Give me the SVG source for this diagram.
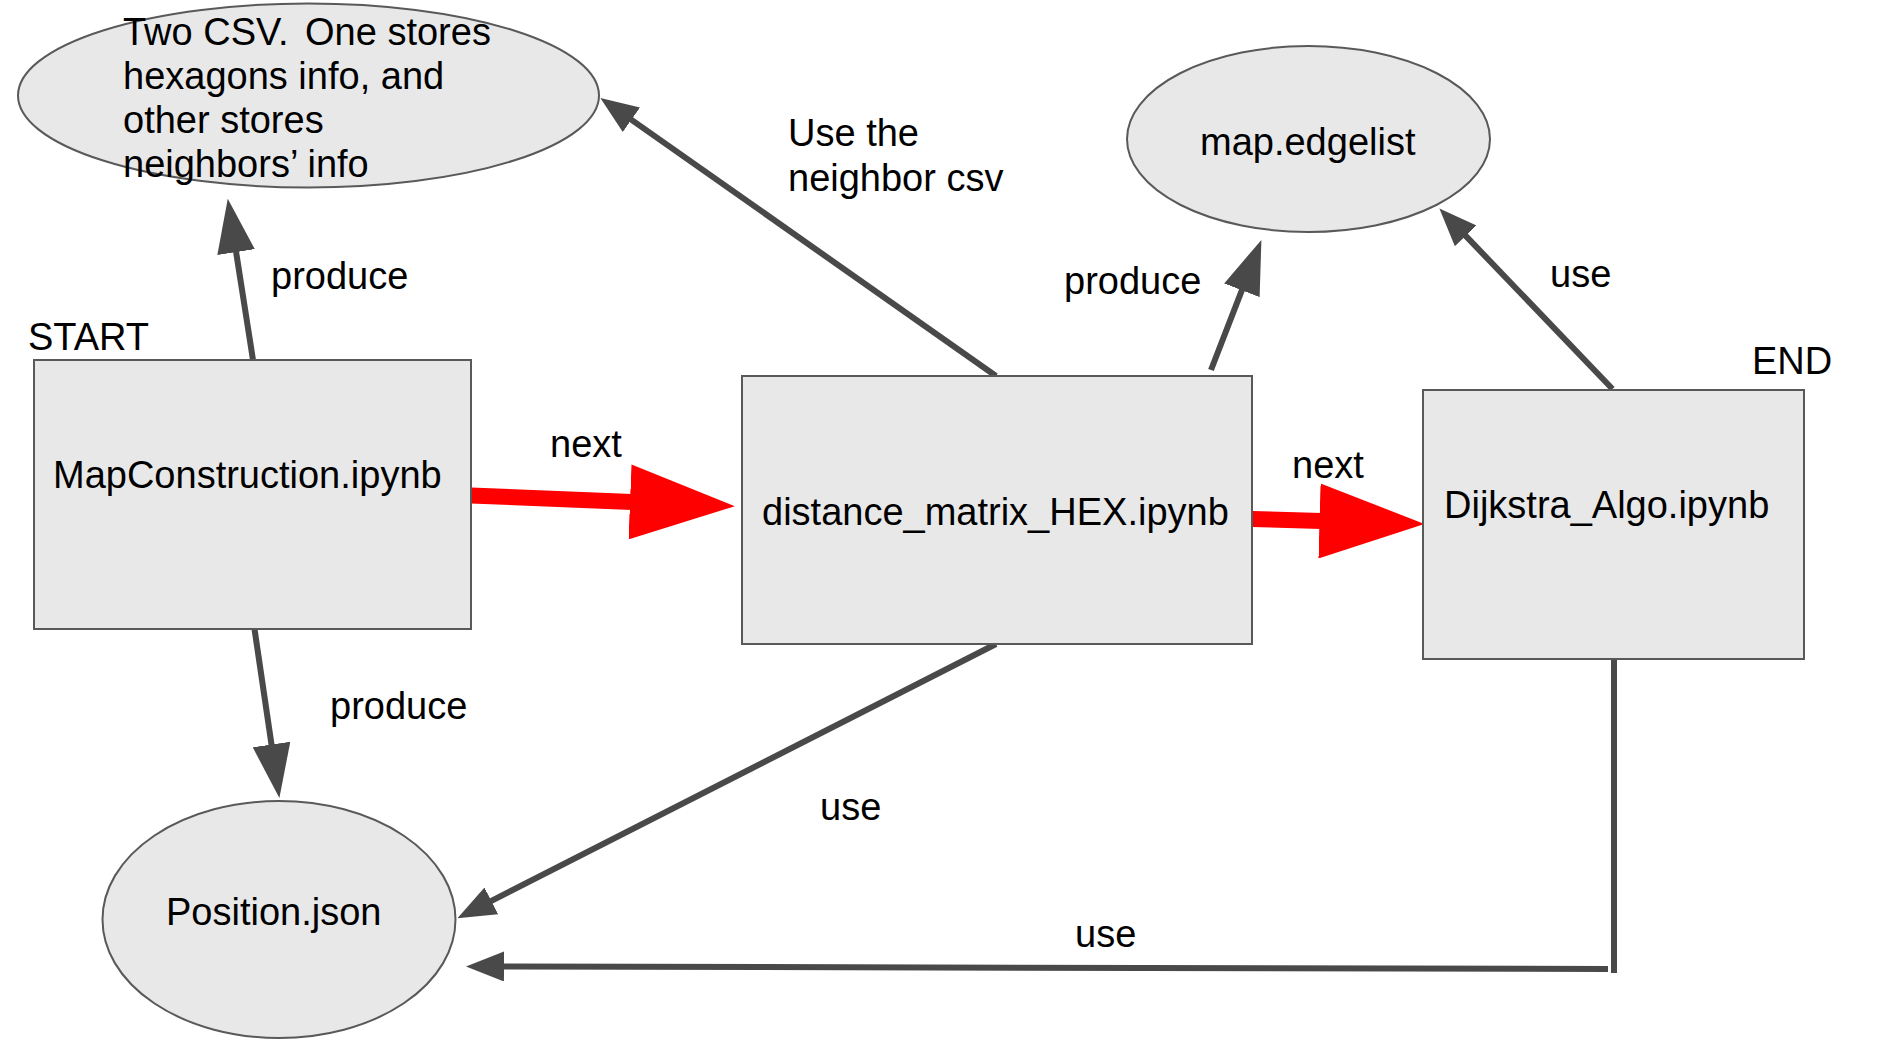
<svg xmlns="http://www.w3.org/2000/svg" width="1888" height="1056" viewBox="0 0 1888 1056">
  <style>
    .box { fill: #e8e8e8; stroke: #595959; stroke-width: 2; }
    .txt { font-family: "Liberation Sans", Arial, sans-serif; font-size: 38px; fill: #000000; }
    .conn { fill: none; stroke: #494949; stroke-width: 6; }
    .next { fill: none; stroke: #ff0000; stroke-width: 16; }
  </style>
  <defs>
    <marker id="big" markerUnits="userSpaceOnUse" markerWidth="54" markerHeight="38" viewBox="0 0 54 38" refX="2" refY="19" orient="auto">
      <path d="M0,0 L54,19 L0,38 z" fill="#494949"/>
    </marker>
    <marker id="small" markerUnits="userSpaceOnUse" markerWidth="38" markerHeight="30" viewBox="0 0 38 30" refX="2" refY="15" orient="auto">
      <path d="M0,0 L38,15 L0,30 z" fill="#494949"/>
    </marker>
    <marker id="red" markerUnits="userSpaceOnUse" markerWidth="105" markerHeight="75" viewBox="0 0 105 75" refX="2" refY="37.5" orient="auto">
      <path d="M0,0 L105,37.5 L0,75 z" fill="#ff0000"/>
    </marker>
  </defs>

  <g id="connectors">
    <path class="conn" d="M253,360 L235.8,250.1" marker-end="url(#big)"/>
    <path class="conn" d="M254.5,629 L271.8,746.5" marker-end="url(#big)"/>
    <path class="conn" d="M996,376 L629.8,118.6" marker-end="url(#small)"/>
    <path class="conn" d="M1211,370 L1242.6,288.4" marker-end="url(#big)"/>
    <path class="conn" d="M1612.5,389 L1464.3,234.4" marker-end="url(#small)"/>
    <path class="conn" d="M996,644 L489.5,901.8" marker-end="url(#small)"/>
    <path class="conn" d="M1614,659 L1614,973 M1608,969 L502,966.5" marker-end="url(#small)"/>
    <path class="next" d="M471,495.5 L632,502" marker-end="url(#red)"/>
    <path class="next" d="M1252,519 L1321.5,521" marker-end="url(#red)"/>
  </g>

  <g id="node-csv">
    <ellipse class="box" cx="308.5" cy="95.5" rx="290.5" ry="92"/>
    <text class="txt" x="123" y="44.5">Two CSV. <tspan dx="6">One stores</tspan></text>
    <text class="txt" x="123" y="88.5">hexagons info, and</text>
    <text class="txt" x="123" y="132.5">other stores</text>
    <text class="txt" x="123" y="176.5">neighbors’ info</text>
  </g>

  <g id="node-edgelist">
    <ellipse class="box" cx="1308.5" cy="139" rx="181.5" ry="93"/>
    <text class="txt" x="1200" y="154.5">map.edgelist</text>
  </g>

  <g id="node-position">
    <ellipse class="box" cx="279" cy="919.5" rx="176.5" ry="118.5"/>
    <text class="txt" x="166" y="924.5">Position.json</text>
  </g>

  <g id="node-mapconstruction">
    <rect class="box" x="34" y="360" width="437" height="269"/>
    <text class="txt" x="53" y="487.5">MapConstruction.ipynb</text>
  </g>

  <g id="node-distance">
    <rect class="box" x="742" y="376" width="510" height="268"/>
    <text class="txt" x="762" y="524.5">distance_matrix_HEX.ipynb</text>
  </g>

  <g id="node-dijkstra">
    <rect class="box" x="1423" y="390" width="381" height="269"/>
    <text class="txt" x="1444" y="517.5">Dijkstra_Algo.ipynb</text>
  </g>

  <g id="labels">
    <text class="txt" x="28" y="349.5">START</text>
    <text class="txt" x="1752" y="373.5">END</text>
    <text class="txt" x="271" y="288.5">produce</text>
    <text class="txt" x="550" y="456.5">next</text>
    <text class="txt" x="788" y="145.5">Use the</text>
    <text class="txt" x="788" y="190.5">neighbor csv</text>
    <text class="txt" x="1064" y="293.5">produce</text>
    <text class="txt" x="1550" y="286.5">use</text>
    <text class="txt" x="1292" y="477.5">next</text>
    <text class="txt" x="330" y="718.5">produce</text>
    <text class="txt" x="820" y="819.5">use</text>
    <text class="txt" x="1075" y="946.5">use</text>
  </g>
</svg>
